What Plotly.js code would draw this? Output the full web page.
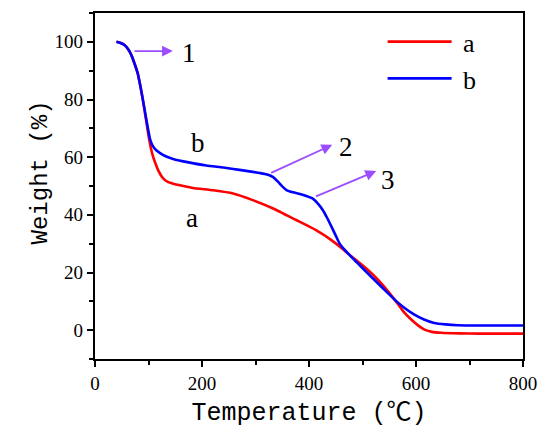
<!DOCTYPE html>
<html>
<head>
<meta charset="utf-8">
<script src="https://cdn.plot.ly/plotly-3.0.1.min.js"></script>
<style>html,body{margin:0;padding:0;background:#fff;}#chart{width:550px;height:438px;}</style>
</head>
<body>
<div id="chart"></div>
<script>
// Sample a
var tempA = [40, 48, 55, 62, 68, 74, 80, 84, 88, 92, 96, 100, 104, 108, 112, 118, 127, 136, 146, 165, 183, 221, 258, 295, 333, 376, 413, 440, 460, 476, 500, 522, 540, 560, 575, 591, 605, 616, 630, 647, 680, 720, 760, 800];
var weightA = [100, 99.6, 98.9, 97.4, 95.4, 92.4, 89, 85.4, 81.4, 77, 72.3, 67.5, 63.5, 60.5, 58.3, 55.5, 52.7, 51.4, 50.8, 50, 49.3, 48.5, 47.4, 45.1, 42.2, 38.2, 34.7, 31.5, 28.6, 26.1, 22.5, 18.8, 15.2, 10.6, 6.8, 3.7, 1.5, 0.2, -0.6, -0.9, -1.1, -1.2, -1.2, -1.2];
// Sample b
var tempB = [40, 48, 55, 62, 68, 74, 80, 84, 88, 92, 96, 100, 103, 108, 114, 121, 132, 146, 175, 208, 240, 270, 308, 322, 333, 342, 351, 358, 370, 383, 395, 407, 417, 426, 434, 442, 450, 457, 466, 476, 490, 505, 522, 540, 560, 578, 597, 615, 634, 655, 678, 720, 760, 800];
var weightB = [100, 99.6, 98.9, 97.4, 95.4, 92.4, 89, 85.4, 81.5, 77.2, 73, 68.9, 66.2, 63.9, 62.5, 61.5, 60.3, 59.4, 58.2, 57.1, 56.4, 55.6, 54.5, 54, 53.1, 51.5, 49.7, 48.6, 47.8, 47.2, 46.5, 45.6, 43.8, 41.6, 38.9, 35.9, 32.8, 30.1, 28, 26, 23.4, 20.6, 17.5, 14.2, 10.6, 7.8, 5.4, 3.7, 2.5, 2, 1.7, 1.6, 1.6, 1.6];
var seriesNames = ['a', 'b'];
var xTickVals = [0, 200, 400, 600, 800];
var yTickVals = [0, 20, 40, 60, 80, 100];
var xTitle = 'Temperature (℃)';
var yTitle = 'Weight (%)';
// curve labels
var labelTexts = ['1', 'b', 'a', '2', '3'];
var labelX = [175, 192, 181, 470, 547];
var labelY = [96, 65, 38.9, 63.4, 52];
// arrows: tail -> head
var arrowTailX = [71, 326.5, 410.4];
var arrowTailY = [96.8, 54.3, 46.2];
var arrowHeadX = [145.5, 443.5, 525.6];
var arrowHeadY = [96.8, 64.3, 55.2];

var serif = 'Liberation Serif, Times New Roman, serif';
var mono = 'Liberation Mono, Noto Sans Mono CJK SC, monospace';

var traces = [
  {x: tempA, y: weightA, name: '\u00a0' + seriesNames[0], type: 'scatter', mode: 'lines',
   line: {color: '#ff0000', width: 2.6, shape: 'spline', smoothing: 0.5}},
  {x: tempB, y: weightB, name: '\u00a0' + seriesNames[1], type: 'scatter', mode: 'lines',
   line: {color: '#0000ff', width: 2.6, shape: 'spline', smoothing: 0.5}}
];

var annotations = [];
for (var i = 0; i < labelTexts.length; i++) {
  annotations.push({x: labelX[i], y: labelY[i], xref: 'x', yref: 'y', text: labelTexts[i],
    showarrow: false, font: {family: serif, size: 27, color: '#000'}});
}
for (var j = 0; j < arrowTailX.length; j++) {
  annotations.push({x: arrowHeadX[j], y: arrowHeadY[j], ax: arrowTailX[j], ay: arrowTailY[j],
    xref: 'x', yref: 'y', axref: 'x', ayref: 'y', text: '', showarrow: true,
    arrowhead: 2, arrowsize: 1.2, arrowwidth: 1.8, arrowcolor: '#9b4dff'});
}
// y-axis title placed like the reference (slightly above centre)
annotations.push({xref: 'paper', yref: 'paper', x: -0.164, y: 0.54, text: yTitle, textangle: -90,
  showarrow: false, font: {family: mono, size: 24, color: '#000'}});

var axisCommon = {
  showline: true, mirror: true, linecolor: '#000', linewidth: 2.2,
  ticks: 'outside', ticklen: 6, tickwidth: 2, tickcolor: '#000',
  showgrid: false, zeroline: false,
  tickfont: {family: serif, size: 19, color: '#000'}
};

var layout = {
  width: 550, height: 438,
  margin: {l: 95, r: 27, t: 13, b: 79},
  paper_bgcolor: '#fff', plot_bgcolor: '#fff',
  showlegend: true,
  legend: {x: 0.672, y: 0.985, xanchor: 'left', yanchor: 'top', bgcolor: 'rgba(0,0,0,0)',
    font: {family: serif, size: 26, color: '#000'}, itemwidth: 64, tracegroupgap: 0},
  xaxis: Object.assign({}, axisCommon, {
    range: [0, 800], tickvals: xTickVals,
    minor: {ticks: 'outside', ticklen: 4, tickwidth: 2, tickcolor: '#000', dtick: 100, tick0: 0},
    title: {text: xTitle, font: {family: mono, size: 25, color: '#000'}, standoff: 10}
  }),
  yaxis: Object.assign({}, axisCommon, {
    range: [-10, 110], tickvals: yTickVals,
    minor: {ticks: 'outside', ticklen: 4, tickwidth: 2, tickcolor: '#000', dtick: 10, tick0: 0}
  }),
  annotations: annotations
};

Plotly.newPlot('chart', traces, layout, {displayModeBar: false, staticPlot: true});
</script>
</body>
</html>
